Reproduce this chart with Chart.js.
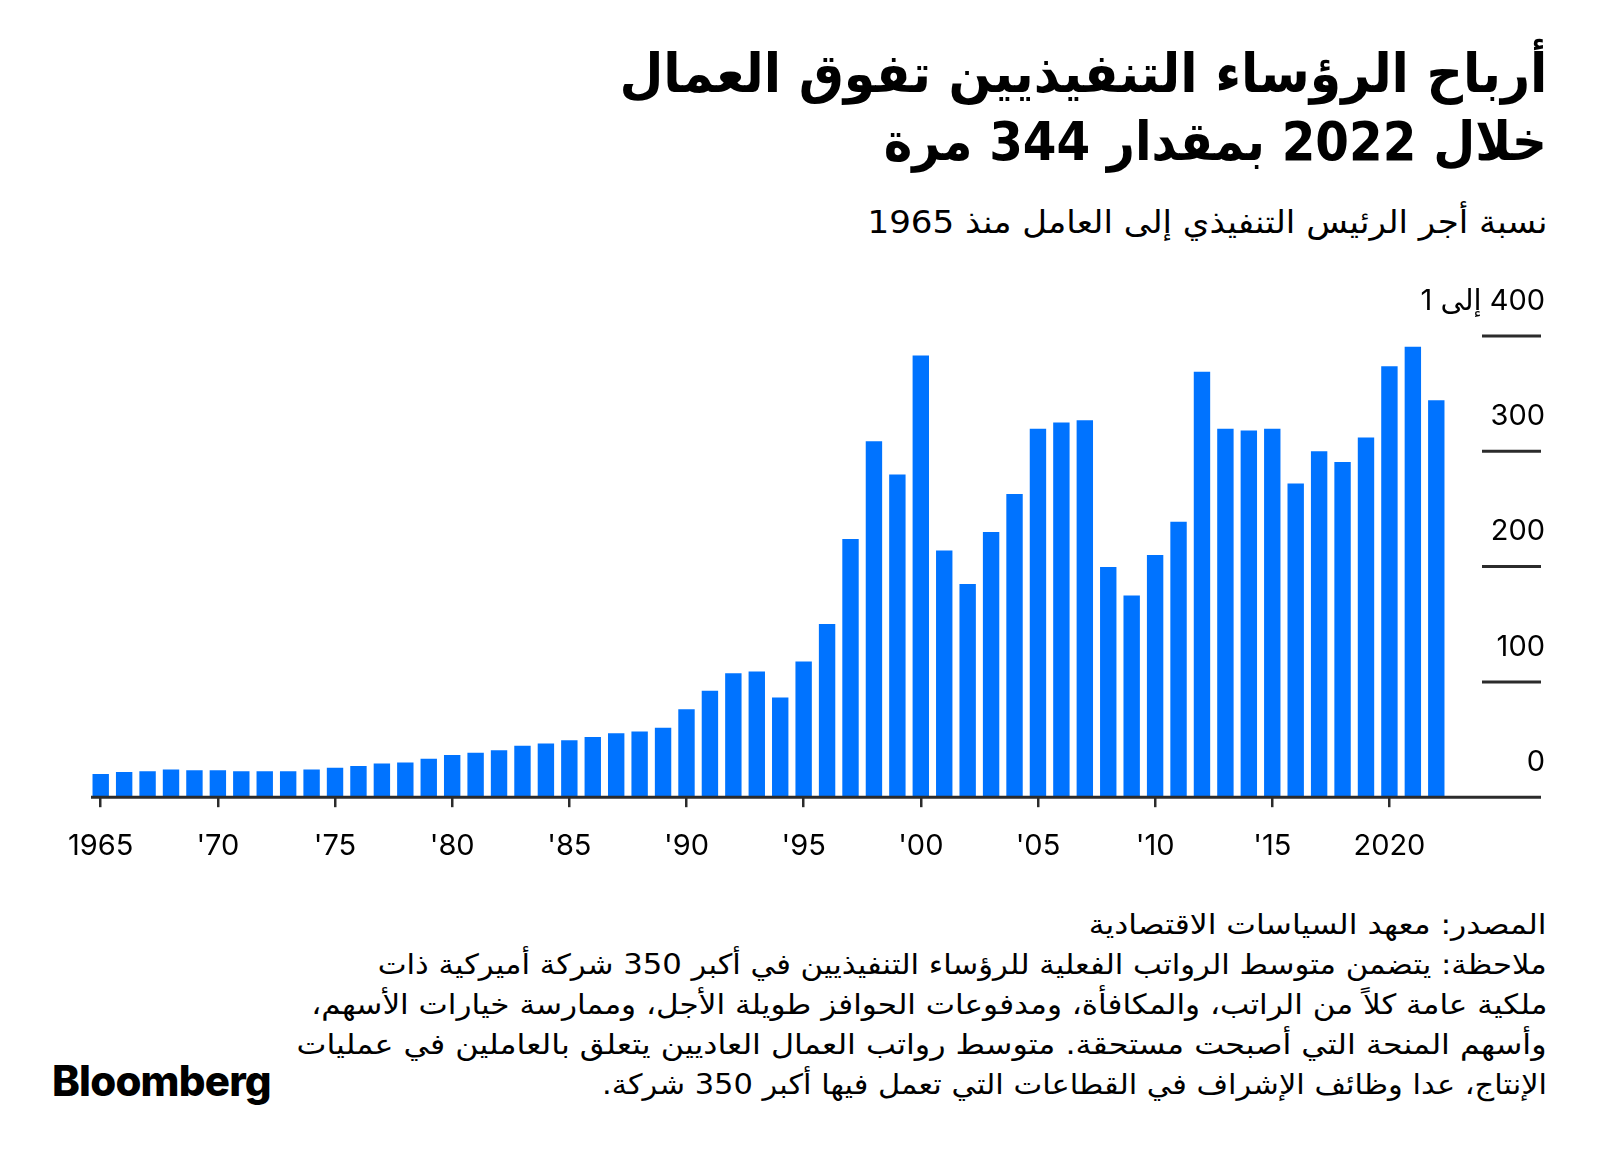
<!DOCTYPE html>
<html lang="ar">
<head>
<meta charset="utf-8">
<script src="https://cdn.jsdelivr.net/npm/chart.js@4.4.0/dist/chart.umd.min.js"></script>
<style>
  body { margin: 0; background: #fff; }
  #page { position: relative; width: 1600px; height: 1161px; overflow: hidden; background: #fff; }
  .ar {
    position: absolute; right: 53px; direction: rtl; text-align: right; white-space: nowrap;
    font-family: "DejaVu Sans Condensed", "DejaVu Sans", sans-serif; color: #000;
  }
  .ar > div { display: block; width: max-content; margin-left: auto; transform-origin: right center; }
  #title { top: 40px; font-size: 54px; font-weight: bold; line-height: 68px; }
  #subtitle { top: 203px; font-size: 32px; line-height: 38px; }
  #notes { top: 905px; font-size: 28px; line-height: 40px; }
  #logo {
    position: absolute; left: 52px; top: 1055px; font-family: Inter, sans-serif;
    font-weight: 800; font-size: 42px; letter-spacing: -0.8px; color: #000;
  }
  #chartBox { position: absolute; left: 0; top: 270px; width: 1600px; height: 616px; }
</style>
</head>
<body>
<div id="page">
  <div id="title" class="ar">
    <div data-w="928">أرباح الرؤساء التنفيذيين تفوق العمال</div>
    <div data-w="663">خلال 2022 بمقدار 344 مرة</div>
  </div>
  <div id="subtitle" class="ar">
    <div data-w="680">نسبة أجر الرئيس التنفيذي إلى العامل منذ 1965</div>
  </div>
  <div id="chartBox"><canvas id="ratioChart" width="1600" height="616"></canvas></div>
  <div id="notes" class="ar">
    <div data-w="458">المصدر: معهد السياسات الاقتصادية</div>
    <div data-w="1169">ملاحظة: يتضمن متوسط الرواتب الفعلية للرؤساء التنفيذيين في أكبر 350 شركة أميركية ذات</div>
    <div data-w="1236">ملكية عامة كلاً من الراتب، والمكافأة، ومدفوعات الحوافز طويلة الأجل، وممارسة خيارات الأسهم،</div>
    <div data-w="1250">وأسهم المنحة التي أصبحت مستحقة. متوسط رواتب العمال العاديين يتعلق بالعاملين في عمليات</div>
    <div data-w="945">الإنتاج، عدا وظائف الإشراف في القطاعات التي تعمل فيها أكبر 350 شركة.</div>
  </div>
  <div id="logo">Bloomberg</div>
</div>

<script>
// --- data ---
const years = [
  1965, 1966, 1967, 1968, 1969, 1970, 1971, 1972, 1973, 1974,
  1975, 1976, 1977, 1978, 1979, 1980, 1981, 1982, 1983, 1984,
  1985, 1986, 1987, 1988, 1989, 1990, 1991, 1992, 1993, 1994,
  1995, 1996, 1997, 1998, 1999, 2000, 2001, 2002, 2003, 2004,
  2005, 2006, 2007, 2008, 2009, 2010, 2011, 2012, 2013, 2014,
  2015, 2016, 2017, 2018, 2019, 2020, 2021, 2022
];
const ceoRatio = [
  20.2, 21.8, 22.4, 24.0, 23.4, 23.4, 22.4, 22.4, 22.4, 24.0,
  25.6, 27.0, 29.2, 30.0, 33.3, 36.5, 38.5, 40.7, 44.6, 46.5,
  49.4, 52.2, 55.4, 57.0, 60.3, 76.3, 92.3, 107.4, 109.0, 86.5,
  117.6, 150.3, 224.0, 308.7, 279.8, 383.0, 214.0, 185.0, 230.0, 263.0,
  319.6, 325.0, 327.0, 199.7, 175.0, 210.0, 238.8, 369.0, 319.6, 318.0,
  319.6, 272.0, 300.0, 290.7, 312.0, 373.7, 390.7, 344.3
];
const xTickYears = [1965, 1970, 1975, 1980, 1985, 1990, 1995, 2000, 2005, 2010, 2015, 2020];
const xTickLabels = ['1965', "'70", "'75", "'80", "'85", "'90", "'95", "'00", "'05", "'10", "'15", '2020'];
const yTickValues = [0, 100, 200, 300, 400];
const yTickLabels = ['0', '100', '200', '300', '400 إلى 1'];

const BAR_BLUE = '#0073FF';
const INK = '#2b2b2b';

// the Arabic fallback font is narrower than the original, so stretch each line to its width
document.querySelectorAll('[data-w]').forEach(el => {
  const target = Number(el.dataset.w);
  const w = el.getBoundingClientRect().width;
  if (w > 0) el.style.transform = `scaleX(${target / w})`;
});

// draws the baseline plus the short right-hand tick bars and their labels
const rightAxisPlugin = {
  id: 'rightAxis',
  afterDatasetsDraw(chart) {
    const { ctx, chartArea, scales } = chart;
    const y = scales.y;
    ctx.save();
    ctx.strokeStyle = INK;
    ctx.lineWidth = 3;
    // baseline runs past the bars, under the tick labels
    ctx.beginPath();
    ctx.moveTo(chartArea.left + 2, y.getPixelForValue(0));
    ctx.lineTo(1541, y.getPixelForValue(0));
    ctx.stroke();

    ctx.fillStyle = '#000';
    ctx.font = '29px Inter, "DejaVu Sans", sans-serif';
    ctx.textAlign = 'right';
    ctx.textBaseline = 'middle';
    ctx.direction = 'rtl';
    yTickValues.forEach((v, i) => {
      const py = y.getPixelForValue(v);
      if (v > 0) {
        ctx.beginPath();
        ctx.moveTo(1482, py);
        ctx.lineTo(1541, py);
        ctx.stroke();
      }
      ctx.fillText(yTickLabels[i], 1545, py - 35);
    });
    ctx.restore();
  }
};

new Chart(document.getElementById('ratioChart'), {
  type: 'bar',
  data: {
    labels: years,
    datasets: [{
      label: 'CEO-to-worker pay ratio',
      data: ceoRatio,
      backgroundColor: BAR_BLUE,
      borderWidth: 0,
      barPercentage: 0.7,
      categoryPercentage: 1.0
    }]
  },
  options: {
    responsive: false,
    animation: false,
    layout: { padding: { left: 89, right: 152, top: 66, bottom: 0 } },
    plugins: { legend: { display: false }, tooltip: { enabled: false } },
    scales: {
      x: {
        border: { display: false },
        grid: {
          offset: false,
          drawOnChartArea: false,
          tickLength: 10,
          lineWidth: 2.5,
          color: (c) => (xTickYears.includes(years[c.index]) ? INK : 'rgba(0,0,0,0)')
        },
        ticks: {
          autoSkip: false,
          maxRotation: 0,
          minRotation: 0,
          padding: 22,
          color: '#000',
          font: { family: 'Inter', size: 29 },
          callback: (value, index) => {
            const k = xTickYears.indexOf(years[index]);
            return k >= 0 ? xTickLabels[k] : '';
          }
        }
      },
      y: {
        display: false,
        min: 0,
        max: 400
      }
    }
  },
  plugins: [rightAxisPlugin]
});
</script>
</body>
</html>
